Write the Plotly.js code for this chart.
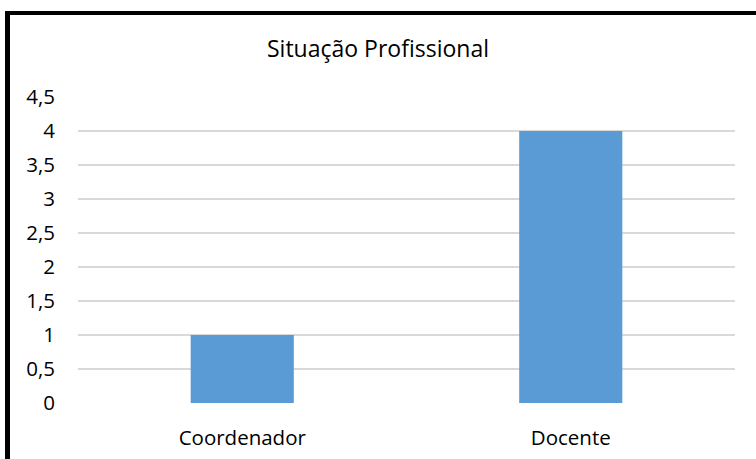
<!DOCTYPE html>
<html>
<head>
<meta charset="utf-8">
<script src="https://cdn.plot.ly/plotly-3.0.1.min.js"></script>
<style>
html,body{margin:0;padding:0;background:#fff;}
#wrap{position:relative;width:756px;height:459px;}
#chart{position:absolute;left:0;top:0;width:756px;height:459px;}
.bl{position:absolute;background:#000;z-index:5;}
</style>
</head>
<body>
<div id="wrap">
<div id="chart"></div>
<div class="bl" style="left:5px;top:11px;width:751px;height:4px;"></div>
<div class="bl" style="left:5px;top:11px;width:5px;height:448px;"></div>
</div>
<script>
const categories = ["Coordenador", "Docente"];
const values = [1, 4];
const chartTitle = "Situação Profissional";

const FONT = "Open Sans, Noto Sans, sans-serif";
Plotly.newPlot("chart", [{
  type: "bar",
  x: categories,
  y: values,
  marker: {color: "#5B9BD5", line: {width: 0}},
  hoverinfo: "x+y"
}], {
  width: 756, height: 459,
  margin: {l: 78, r: 21, t: 97, b: 56},
  paper_bgcolor: "#fff", plot_bgcolor: "#fff",
  separators: ",.",
  bargap: 0.686,
  showlegend: false,
  title: {text: chartTitle, font: {family: FONT, size: 23, color: "#000"}, x: 0.5, xanchor: "center", y: 1 - 49/459, yanchor: "middle"},
  xaxis: {
    showgrid: false, zeroline: false, showline: false, ticks: "",
    tickfont: {family: FONT, size: 20.5, color: "#000"},
    ticklabelstandoff: 20
  },
  yaxis: {
    range: [0, 4.5], dtick: 0.5, tick0: 0,
    showgrid: true, gridcolor: "#D9D9D9", gridwidth: 1.5,
    zeroline: false, showline: false, ticks: "",
    tickfont: {family: FONT, size: 20.5, color: "#000"},
    ticklabelstandoff: 22
  }
}, {displayModeBar: false, staticPlot: true});
</script>
</body>
</html>
